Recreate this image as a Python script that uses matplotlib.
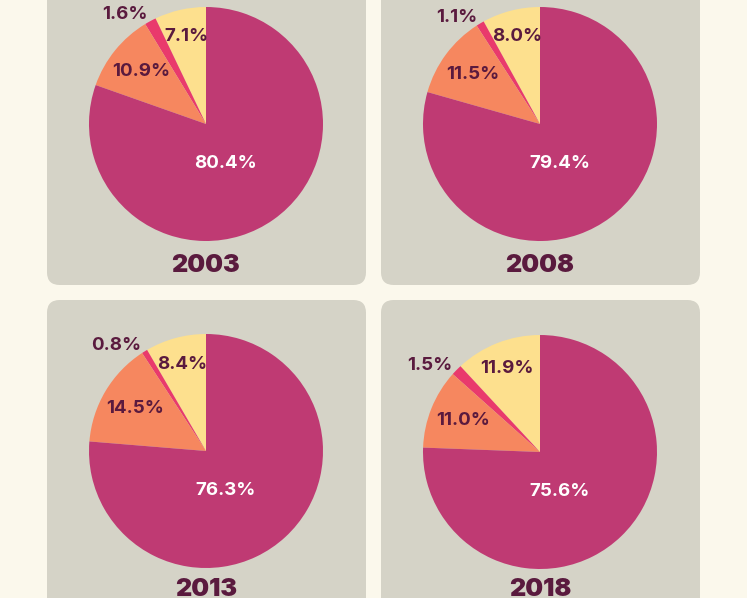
import numpy as np
import matplotlib
matplotlib.use("Agg")
import matplotlib.pyplot as plt
from matplotlib.patches import FancyBboxPatch

# data: shares per year, counter-clockwise from 12 o'clock
years = ["2003", "2008", "2013", "2018"]
yellow = [7.1, 8.0, 8.4, 11.9]
pink = [1.6, 1.1, 0.8, 1.5]
coral = [10.9, 11.5, 14.5, 11.0]
magenta = [80.4, 79.4, 76.3, 75.6]

colors = ["#fde08e", "#e93a6c", "#f6875f", "#bf3a73"]
bg = "#fbf8ec"
panel = "#d5d3c7"
dark = "#5a1a3e"

W, H = 747, 598
fig = plt.figure(figsize=(W / 100, H / 100), dpi=100, facecolor=bg)
plt.rcParams['font.family'] = ['Inter', 'DejaVu Sans']

# panels (pixel coords, y from top)
panels = [(47, -40, 366, 285), (381, -40, 700, 285),
          (47, 300, 366, 640), (381, 300, 700, 640)]
for x0, y0, x1, y1 in panels:
    p = FancyBboxPatch((x0 / W, 1 - y1 / H), (x1 - x0) / W, (y1 - y0) / H,
                       boxstyle="round,pad=0,rounding_size=0.017",
                       transform=fig.transFigure, facecolor=panel,
                       edgecolor="none", mutation_aspect=W / H, zorder=-5)
    fig.patches.append(p)

centers = [(206, 124), (540, 124), (206, 451), (540, 452)]
R = 117
year_y = [265, 265, 590, 590]
lbl = dict(fontsize=13.5, fontweight="bold")

for i, yr in enumerate(years):
    cx, cy = centers[i]
    ax = fig.add_axes([(cx - R) / W, 1 - (cy + R) / H, 2 * R / W, 2 * R / H])
    vals = [yellow[i], pink[i], coral[i], magenta[i]]
    wedges, _ = ax.pie(vals, colors=colors, startangle=90, counterclock=True,
                       radius=1, wedgeprops=dict(linewidth=0))
    ax.set_xlim(-1, 1)
    ax.set_ylim(-1, 1)
    ax.set_aspect("equal")
    ax.axis("off")

    for j, w in enumerate(wedges):
        mid = np.deg2rad((w.theta1 + w.theta2) / 2)
        txt = f"{vals[j]:.1f}%"
        if j == 0:
            ax.text(0.77 * np.cos(mid), 0.77 * np.sin(mid), txt, ha="center",
                    va="center", color=dark, **lbl)
        elif j == 1:
            ax.text(1.05 * np.cos(mid), 1.06 * np.sin(mid), txt, ha="right",
                    va="center", color=dark, clip_on=False, **lbl)
        elif j == 2:
            ax.text(0.71 * np.cos(mid), 0.71 * np.sin(mid), txt, ha="center",
                    va="center", color=dark, **lbl)
        else:
            ax.text(0.17, -0.34, txt, ha="center", va="center",
                    color="white", **lbl)

    fig.text(cx / W, 1 - year_y[i] / H, yr, ha="center", va="center",
             color=dark, fontsize=18, fontweight="black")

fig.savefig("out.png", dpi=100, facecolor=bg)
